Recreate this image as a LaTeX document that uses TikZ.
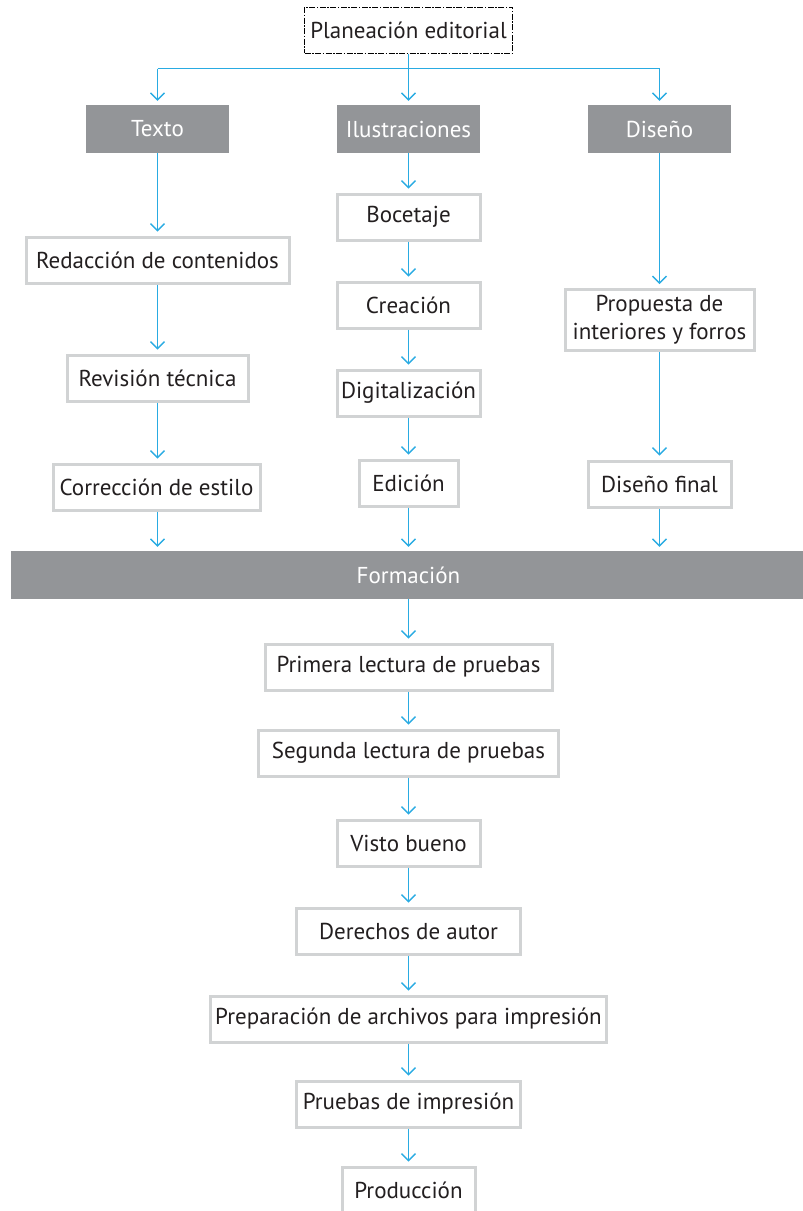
\documentclass[tikz,border=0pt]{standalone}
\usepackage{fontspec}
\setmainfont{PT Sans}
\usepackage{tikz}
\usetikzlibrary{arrows.meta}
\definecolor{flechaazul}{RGB}{41,171,226}
\definecolor{cajagris}{RGB}{147,149,152}
\definecolor{bordegris}{RGB}{209,211,212}
\definecolor{textogris}{RGB}{35,31,32}
\tikzset{
	caja/.style={draw=bordegris,line width=3pt,fill=white,text=textogris,inner sep=0pt,minimum height=46pt},
	etapa/.style={fill=cajagris,text=white,inner sep=0pt,minimum height=48pt,minimum width=143pt},
	flecha/.style={flechaazul,line width=1.4pt,-{Straight Barb[length=7pt,width=14pt]},shorten >=4pt},
	linea/.style={flechaazul,line width=1.4pt}
}

\begin{document}
\begin{tikzpicture}[x=1pt,y=-1pt,font=\fontsize{23}{28}\selectfont]
			\useasboundingbox (0,0) rectangle (803,1211);
			\clip (0,0) rectangle (803,1211);

			\node[draw=black,line width=1pt,dash pattern=on 6pt off 1.5pt on 1.5pt off 1.5pt,text=textogris,inner sep=0pt,minimum width=208pt,minimum height=46pt] (plan) at (408.5,30) {Planeación editorial};

			\node[etapa] (texto) at (157.5,129) {Texto};
			\node[etapa] (ilus) at (408.5,129) {Ilustraciones};
			\node[etapa] (diseno) at (659.5,129) {Diseño};

			\node[caja,minimum width=263pt] (redaccion) at (157.5,260) {Redacción de contenidos};
			\node[caja,minimum width=181pt] (revision) at (157.5,378) {Revisión técnica};
			\node[caja,minimum width=207pt] (correccion) at (156.5,487) {Corrección de estilo};

			\node[caja,minimum width=143pt] (bocetaje) at (408.5,217) {Bocetaje};
			\node[caja,minimum width=143pt] (creacion) at (408.5,305) {Creación};
			\node[caja,minimum width=143pt] (digital) at (408.5,393) {Digitalización};
			\node[caja,minimum width=99pt] (edicion) at (408.5,483) {Edición};

			\node[caja,minimum width=189pt,minimum height=61pt,align=center] (propuesta) at (659.5,320) {Propuesta de\\interiores y forros};
			\node[caja,minimum width=143pt] (disfinal) at (659.5,484) {Diseño final};

			\node[etapa,minimum width=796pt] (formacion) at (408.5,575) {Formación};

			\node[caja,minimum width=287pt] (primera) at (408.5,667) {Primera lectura de pruebas};
			\node[caja,minimum width=300pt] (segunda) at (408.5,753) {Segunda lectura de pruebas};
			\node[caja,minimum width=143pt] (visto) at (408.5,843) {Visto bueno};
			\node[caja,minimum width=224pt] (derechos) at (408.5,931) {Derechos de autor};
			\node[caja,minimum width=396pt] (preparacion) at (408.5,1019) {Preparación de archivos para impresión};
			\node[caja,minimum width=224pt] (pruebas) at (408.5,1104) {Pruebas de impresión};
			\node[caja,minimum width=133pt] (produccion) at (408.5,1190) {Producción};

			\coordinate (bus) at (0,68.5);
			\draw[linea] (plan.south) -- (plan.south |- bus);
			\draw[linea] (texto.north |- bus) -- (diseno.north |- bus);
			\draw[flecha] (texto.north |- bus) -- (texto.north);
			\draw[flecha] (plan.south |- bus) -- (ilus.north);
			\draw[flecha] (diseno.north |- bus) -- (diseno.north);

			\draw[flecha] (texto) -- (redaccion);
			\draw[flecha] (redaccion) -- (revision);
			\draw[flecha] (revision) -- (correccion.north -| revision);
			\draw[flecha] (correccion.south -| texto) -- (formacion.north -| texto);

			\draw[flecha] (ilus) -- (bocetaje);
			\draw[flecha] (bocetaje) -- (creacion);
			\draw[flecha] (creacion) -- (digital);
			\draw[flecha] (digital) -- (edicion);
			\draw[flecha] (edicion) -- (formacion.north -| edicion);

			\draw[flecha] (diseno) -- (propuesta);
			\draw[flecha] (propuesta) -- (disfinal);
			\draw[flecha] (disfinal) -- (formacion.north -| disfinal);

			\draw[flecha] (formacion.south -| primera) -- (primera);
			\draw[flecha] (primera) -- (segunda);
			\draw[flecha] (segunda) -- (visto);
			\draw[flecha] (visto) -- (derechos);
			\draw[flecha] (derechos) -- (preparacion);
			\draw[flecha] (preparacion) -- (pruebas);
			\draw[flecha] (pruebas) -- (produccion);
		
		\end{tikzpicture}
\end{document}
